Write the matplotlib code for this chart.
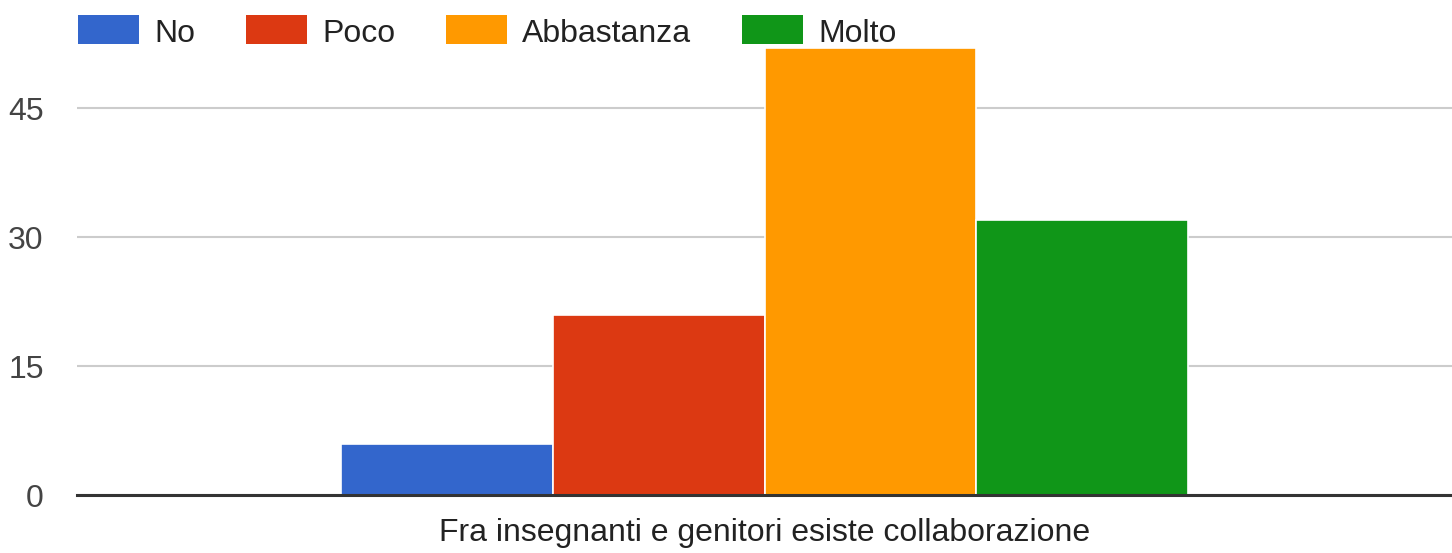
import matplotlib
matplotlib.use("Agg")
import matplotlib.pyplot as plt
from matplotlib.patches import Rectangle

categories = ["No", "Poco", "Abbastanza", "Molto"]
values = [6, 21, 52, 32]
colors = ["#3366CC", "#DC3912", "#FF9900", "#109618"]
group_label = "Fra insegnanti e genitori esiste collaborazione"
yticks = [0, 15, 30, 45]

W, H = 1452, 553
plt.rcParams['font.family'] = ['Liberation Sans', 'DejaVu Sans']
fig = plt.figure(figsize=(W / 100, H / 100), dpi=100)

left, right, top, bottom = 77, 1452, 48, 495.3
ax = fig.add_axes([left / W, (H - bottom) / H, (right - left) / W, (bottom - top) / H])

step = 211.75 / (right - left)
n = len(values)
for i, (cat, v, c) in enumerate(zip(categories, values, colors)):
    x = (i - (n - 1) / 2) * step
    ax.bar(x, v, width=step, color=c, edgecolor="white", linewidth=1.2, zorder=2)

ax.set_xlim(-0.5, 0.5)
ax.set_ylim(0, 52)
for s in ax.spines.values():
    s.set_visible(False)
ax.set_yticks(yticks)
ax.set_yticklabels([str(t) for t in yticks])
ax.yaxis.grid(True, color="#CCCCCC", linewidth=1.5, zorder=0)
ax.set_axisbelow(True)
ax.axhline(0, color="#333333", linewidth=2.2, zorder=3, clip_on=False)
ax.tick_params(axis="y", length=0, pad=24, labelsize=23, labelcolor="#444444")
ax.set_xticks([0])
ax.set_xticklabels([group_label])
ax.tick_params(axis="x", length=0, pad=16, labelsize=23, labelcolor="#222222")

# legend (manual, Google Charts style)
box_x = [78, 246, 446, 742]
box_w, box_h, box_y = 61, 29, 15
for bx, cat, c in zip(box_x, categories, colors):
    fig.add_artist(Rectangle((bx / W, (H - box_y - box_h) / H), box_w / W, box_h / H,
                             transform=fig.transFigure, facecolor=c, edgecolor="none"))
    fig.text((bx + box_w + 15) / W, (H - 42) / H, cat,
             fontsize=23, color="#222222", va="baseline", ha="left")

fig.savefig("out.png", dpi=100, facecolor="white")
